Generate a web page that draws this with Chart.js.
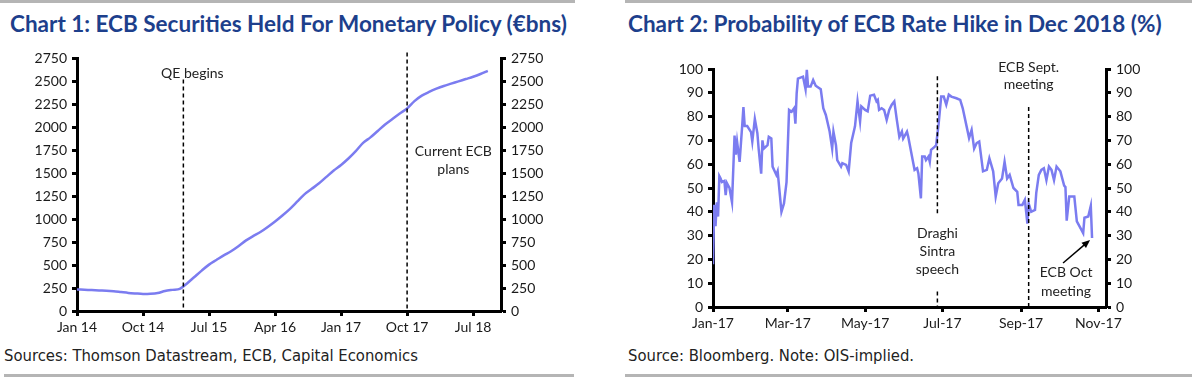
<!DOCTYPE html>
<html>
<head>
<meta charset="utf-8">
<script src="https://cdn.jsdelivr.net/npm/chart.js@4.4.0/dist/chart.umd.min.js"></script>
<style>
  body { margin: 0; width: 1192px; height: 389px; background: #fff; position: relative; overflow: hidden; font-family: Lato, sans-serif; }
  .rule { position: absolute; height: 3px; background: #b5b5b5; }
  .title { position: absolute; top: 10px; font: bold 22.5px Lato, sans-serif; color: #1d3f8c; white-space: nowrap; }
  .src { position: absolute; top: 346px; font: 16.5px "Liberation Sans Narrow", "DejaVu Sans Condensed", sans-serif; color: #222; white-space: nowrap; }
  .box { position: absolute; top: 45px; height: 295px; }
</style>
</head>
<body>
<div class="rule" style="left:0;top:0;width:575px"></div>
<div class="rule" style="left:625px;top:0;width:567px"></div>
<div class="title" style="left:10px">Chart 1: ECB Securities Held For Monetary Policy (€bns)</div>
<div class="title" style="left:628px">Chart 2: Probability of ECB Rate Hike in Dec 2018 (%)</div>
<div class="box" style="left:0;width:560px"><canvas id="c1"></canvas></div>
<div class="box" style="left:600px;width:592px"><canvas id="c2"></canvas></div>
<div class="src" style="left:4px">Sources: Thomson Datastream, ECB, Capital Economics</div>
<div class="src" style="left:628px">Source: Bloomberg. Note: OIS-implied.</div>
<div class="rule" style="left:4px;top:374px;width:570px"></div>
<div class="rule" style="left:625px;top:374px;width:567px"></div>

<script>
// Chart 1: monthly holdings, Jan 2014 onwards (EUR bn)
var holdings = [
    235, 231, 228, 224, 221, 215, 206, 197, 191, 186, 188, 196,
    218, 230, 240, 300, 370, 440, 505, 555, 605, 650, 705, 766,
    815, 860, 915, 975, 1040, 1110, 1190, 1270, 1330, 1390, 1460, 1530,
    1590, 1660, 1740, 1830, 1890, 1960, 2030, 2090, 2150, 2205, 2285, 2345,
    2385, 2420, 2450, 2475, 2500, 2525, 2550, 2580, 2615
];
var monthTicks = [0, 9, 18, 27, 36, 45, 54];
var monthTickLabels = ['Jan 14', 'Oct 14', 'Jul 15', 'Apr 16', 'Jan 17', 'Oct 17', 'Jul 18'];
var qeMonth = 14.5;      // Mar 15
var plansMonth = 45;     // Oct 17

// Chart 2: days since 1 Jan 2017, probability (%)
var hikeDays = [
    0, 1, 2, 3, 4, 5, 6, 7, 9, 10, 11, 13, 15, 17, 18, 19, 21, 23, 24, 25,
    27, 30, 31, 33, 35, 36, 38, 39, 40, 43, 44, 46, 47, 50, 51, 54, 56, 58, 60, 62,
    64, 65, 66, 67, 71, 73, 74, 75, 77, 79, 81, 85, 87, 89, 92, 94, 95, 97, 98, 101,
    102, 105, 107, 109, 112, 114, 116, 117, 120, 122, 124, 127, 129, 130, 131, 133, 135, 137, 139, 141,
    143, 145, 147, 149, 150, 153, 154, 158, 159, 161, 162, 164, 165, 167, 168, 170, 171, 172, 175, 176,
    178, 180, 182, 184, 186, 188, 192, 195, 197, 200, 202, 204, 206, 208, 210, 213, 216, 218, 221, 223,
    225, 228, 230, 232, 234, 237, 240, 241, 244, 246, 248, 249, 251, 254, 255, 257, 259, 261, 263, 265,
    267, 269, 271, 274, 277, 278, 279, 281, 285, 287, 290, 292, 293, 296, 298, 299
];
var hikeProb = [
    18, 43, 34, 44, 38, 55, 54, 52.5, 53, 47, 52, 50, 44, 72, 64, 69.5, 61, 76, 84, 76,
    76, 73.5, 69.5, 79, 73, 66.5, 56, 70, 66.5, 68, 71.5, 70.8, 59, 55.5, 57, 40, 43.5, 52.5, 82.8, 82,
    83.5, 77, 89.8, 96, 96.8, 91.5, 99.6, 92.6, 92.6, 95.4, 93, 91.5, 83.5, 80.7, 73.7, 66.6, 73.7, 68, 61.7, 59,
    60.4, 59.7, 56.9, 68.9, 75.9, 86.4, 78, 84.3, 82.8, 82.2, 88.8, 89.2, 86.4, 87, 82.8, 83.5, 82.8, 78.6, 82.8, 85,
    86.4, 78.6, 71.5, 73.7, 70.8, 73.7, 71.5, 60.4, 57.6, 58.3, 56.1, 45.6, 63.2, 63.2, 61.7, 63.2, 61, 66, 67.4, 68,
    77, 88.4, 88.4, 85, 89.2, 88.4, 87.7, 87, 83.5, 76, 71, 74.4, 66.6, 68.9, 69.5, 57, 57.6, 62.5, 57, 46.4,
    52, 54, 61, 54, 55.5, 50, 48.4, 42.9, 42.9, 45, 35, 43.5, 40, 40.8, 48, 55.5, 57.6, 58.3, 53.3, 59,
    57.6, 53.3, 59, 57, 51, 50.4, 36.3, 46.4, 46.4, 36, 33, 31, 37.5, 38, 42.5, 29
];
var dayTicks = [0, 59, 120, 181, 243, 304];
var dayTickLabels = ['Jan-17', 'Mar-17', 'May-17', 'Jul-17', 'Sep-17', 'Nov-17'];
var sintraDay = 177;
var septDay = 249;

var lineColor = '#7b7cf0';
var tickFont = { family: 'Lato', size: 14 };

function axisLine() {
    return { display: true, width: 3, color: '#000' };
}
function tickMarks() {
    return { drawOnChartArea: false, drawTicks: true, tickLength: 5, tickWidth: 3, tickColor: '#000' };
}
function yAxis(pos, max, step, w) {
    return {
        position: pos, min: 0, max: max,
        border: axisLine(), grid: tickMarks(),
        ticks: { stepSize: step, color: '#1a1a1a', font: tickFont, padding: 5, callback: function(v) { return v; } },
        afterFit: function(s) { s.width = w; }
    };
}
function xAxis(max, tickVals, tickLabels, h) {
    return {
        type: 'linear', min: 0, max: max,
        border: axisLine(), grid: tickMarks(),
        afterBuildTicks: function(s) { s.ticks = tickVals.map(function(v) { return { value: v }; }); },
        ticks: {
            autoSkip: false, maxRotation: 0, color: '#1a1a1a', font: tickFont, padding: 3,
            callback: function(v) { return tickLabels[tickVals.indexOf(v)]; }
        },
        afterFit: function(s) { s.height = h; }
    };
}

function dashed(ctx, x, y0, y1) {
    ctx.beginPath();
    ctx.moveTo(x, y0);
    ctx.lineTo(x, y1);
    ctx.stroke();
}

var ecbMarks = {
    id: 'ecbMarks',
    afterDatasetsDraw: function(chart) {
        var ctx = chart.ctx, area = chart.chartArea, x = chart.scales.x, y = chart.scales.y;
        ctx.save();
        ctx.strokeStyle = '#000';
        ctx.lineWidth = 1.5;
        ctx.setLineDash([4, 3]);
        dashed(ctx, x.getPixelForValue(qeMonth), y.getPixelForValue(2520), area.bottom);
        dashed(ctx, x.getPixelForValue(plansMonth), area.top - 6, area.bottom);
        ctx.setLineDash([]);
        ctx.fillStyle = '#222';
        ctx.font = '14px Lato';
        ctx.textAlign = 'center';
        ctx.textBaseline = 'middle';
        ctx.fillText('QE begins', x.getPixelForValue(qeMonth) + 9, y.getPixelForValue(2590));
        ctx.fillText('Current ECB', x.getPixelForValue(51.3), y.getPixelForValue(1736));
        ctx.fillText('plans', x.getPixelForValue(51.3), y.getPixelForValue(1542));
        ctx.restore();
    }
};

var hikeMarks = {
    id: 'hikeMarks',
    afterDatasetsDraw: function(chart) {
        var ctx = chart.ctx, area = chart.chartArea, x = chart.scales.x, y = chart.scales.y;
        ctx.save();
        ctx.strokeStyle = '#000';
        ctx.lineWidth = 1.5;
        ctx.setLineDash([4, 3]);
        var sx = x.getPixelForValue(sintraDay);
        dashed(ctx, sx, y.getPixelForValue(97), y.getPixelForValue(38.5));
        dashed(ctx, sx, y.getPixelForValue(6.5), area.bottom);
        dashed(ctx, x.getPixelForValue(septDay), y.getPixelForValue(84), area.bottom);
        ctx.setLineDash([]);
        ctx.fillStyle = '#222';
        ctx.font = '14px Lato';
        ctx.textAlign = 'center';
        ctx.textBaseline = 'middle';
        ctx.fillText('Draghi', sx, y.getPixelForValue(31));
        ctx.fillText('Sintra', sx, y.getPixelForValue(23.3));
        ctx.fillText('speech', sx, y.getPixelForValue(15.6));
        var px = x.getPixelForValue(septDay);
        ctx.fillText('ECB Sept.', px, y.getPixelForValue(100.8));
        ctx.fillText('meeting', px, y.getPixelForValue(93.5));
        var ox = x.getPixelForValue(278.5);
        ctx.fillText('ECB Oct', ox, y.getPixelForValue(14.7));
        ctx.fillText('meeting', ox, y.getPixelForValue(6.7));
        // arrow towards the last reading
        var last = hikeDays.length - 1;
        var tx = x.getPixelForValue(hikeDays[last]) - 2, ty = y.getPixelForValue(hikeProb[last]) + 2;
        var fx = ox - 3, fy = y.getPixelForValue(18.5);
        var ang = Math.atan2(ty - fy, tx - fx);
        ctx.strokeStyle = '#000';
        ctx.lineWidth = 1.5;
        ctx.beginPath();
        ctx.moveTo(fx, fy);
        ctx.lineTo(tx - 6 * Math.cos(ang), ty - 6 * Math.sin(ang));
        ctx.stroke();
        ctx.fillStyle = '#000';
        ctx.beginPath();
        ctx.moveTo(tx, ty);
        ctx.lineTo(tx - 9 * Math.cos(ang - 0.4), ty - 9 * Math.sin(ang - 0.4));
        ctx.lineTo(tx - 9 * Math.cos(ang + 0.4), ty - 9 * Math.sin(ang + 0.4));
        ctx.closePath();
        ctx.fill();
        ctx.restore();
    }
};

new Chart(document.getElementById('c1'), {
    type: 'line',
    data: {
        datasets: [{
            data: holdings.map(function(v, i) { return { x: i, y: v }; }),
            borderColor: lineColor,
            borderWidth: 2.5,
            pointRadius: 0,
            tension: 0.3,
            yAxisID: 'y'
        }]
    },
    options: {
        responsive: true,
        maintainAspectRatio: false,
        animation: false,
        layout: { padding: { top: 11, left: 0, right: 0, bottom: 0 } },
        plugins: { legend: { display: false }, tooltip: { enabled: false } },
        scales: {
            x: xAxis(57.8, monthTicks, monthTickLabels, 29),
            y: yAxis('left', 2750, 250, 77),
            y2: yAxis('right', 2750, 250, 59)
        }
    },
    plugins: [ecbMarks]
});

new Chart(document.getElementById('c2'), {
    type: 'line',
    data: {
        datasets: [{
            data: hikeDays.map(function(d, i) { return { x: d, y: hikeProb[i] }; }),
            borderColor: lineColor,
            borderWidth: 2.5,
            pointRadius: 0,
            tension: 0,
            yAxisID: 'y'
        }]
    },
    options: {
        responsive: true,
        maintainAspectRatio: false,
        animation: false,
        layout: { padding: { top: 24, left: 0, right: 0, bottom: 0 } },
        plugins: { legend: { display: false }, tooltip: { enabled: false } },
        scales: {
            x: xAxis(310, dayTicks, dayTickLabels, 33),
            y: yAxis('left', 100, 10, 113),
            y2: yAxis('right', 100, 10, 86)
        }
    },
    plugins: [hikeMarks]
});
</script>
</body>
</html>
